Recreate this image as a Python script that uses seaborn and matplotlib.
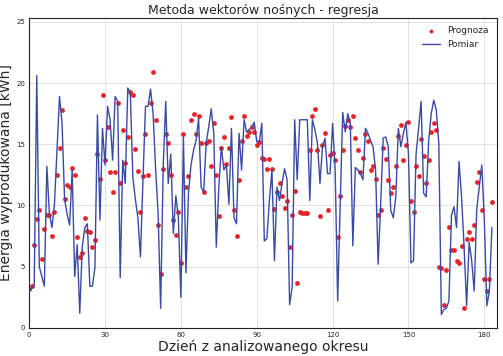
import numpy as np
import pandas as pd
import matplotlib
matplotlib.use('Agg')
import matplotlib.pyplot as plt
import seaborn as sns

# Measured energy (line), one value per day
pomiar = [
    3.0, 3.2, 3.5, 20.6, 5.0, 4.2, 3.4, 13.2, 9.3, 8.2,
    10.1, 14.5, 18.9, 16.7, 10.5, 9.3, 8.4, 12.9, 4.2, 6.8,
    1.2, 6.6, 8.2, 8.5, 3.4, 3.4, 4.9, 17.4, 8.8, 16.3,
    13.3, 18.1, 17.0, 13.7, 18.9, 18.5, 4.1, 13.7, 11.8, 19.6,
    19.2, 12.3, 10.5, 9.0, 5.8, 12.1, 18.1, 18.1, 19.5, 17.5,
    13.0, 9.3, 1.6, 13.2, 18.5, 11.8, 14.2, 7.7, 10.8, 9.0,
    2.5, 15.6, 4.5, 11.0, 13.3, 14.5, 15.3, 17.1, 11.5, 11.1,
    15.1, 16.4, 17.9, 15.9, 6.6, 11.5, 14.8, 12.9, 13.3, 10.1,
    16.3, 9.0, 8.5, 15.9, 12.9, 17.0, 16.0, 16.2, 16.4, 16.8,
    15.2, 15.2, 16.7, 7.1, 7.3, 10.4, 12.9, 5.5, 11.5, 10.4,
    11.8, 13.0, 12.1, 1.9, 3.3, 17.0, 12.1, 17.0, 17.0, 17.0,
    17.0, 10.4, 17.0, 16.2, 15.1, 11.8, 14.8, 15.5, 12.6, 12.6,
    16.7, 13.0, 2.2, 10.1, 17.6, 16.0, 17.5, 16.7, 6.7, 13.1,
    12.9, 12.6, 12.1, 16.3, 15.9, 15.3, 14.8, 12.9, 5.2, 10.0,
    15.5, 15.6, 14.8, 9.6, 9.0, 10.7, 16.3, 14.8, 15.9, 16.8,
    14.2, 5.3, 5.5, 14.2, 16.3, 18.5, 11.0, 10.7, 15.3, 17.5,
    18.6, 17.8, 15.1, 1.1, 1.5, 1.6, 2.2, 9.2, 9.9, 8.2,
    13.6, 10.7, 6.6, 1.8, 7.0, 5.5, 3.0, 9.7, 11.5, 13.3,
    8.8, 1.8, 3.0, 8.2,
]

# Predicted energy (dots)
prognoza = [
    3.2, 3.4, 6.8, 8.9, 9.6, 5.6, 8.1, 9.2, 9.2, 7.5,
    9.5, 12.5, 14.7, 17.8, 10.5, 11.7, 11.5, 13.1, 12.5, 7.4,
    5.8, 6.1, 9.0, 7.9, 7.8, 6.6, 7.2, 14.2, 12.2, 19.0,
    13.7, 16.4, 12.7, 11.1, 12.7, 18.4, 11.8, 16.2, 13.5, 15.6,
    19.3, 19.0, 14.6, 12.8, 9.5, 12.4, 15.8, 12.5, 18.4, 20.9,
    17.0, 8.4, 4.4, 13.0, 15.8, 15.1, 12.5, 8.8, 7.6, 9.5,
    5.3, 15.8, 11.5, 12.4, 17.0, 17.5, 15.8, 17.3, 15.1, 11.1,
    15.1, 15.3, 13.2, 16.7, 12.5, 9.1, 14.7, 15.6, 13.4, 14.7,
    17.2, 9.6, 7.5, 12.1, 15.3, 17.3, 15.7, 16.0, 16.4, 16.0,
    14.9, 15.2, 13.9, 13.8, 13.0, 13.8, 13.0, 9.7, 11.1, 11.8,
    10.8, 9.8, 10.4, 6.6, 9.2, 11.2, 3.7, 9.5, 9.4, 9.4,
    9.4, 14.5, 17.3, 17.9, 14.5, 9.1, 14.9, 15.9, 9.6, 14.1,
    14.3, 13.7, 7.4, 10.8, 14.5, 16.5, 17.0, 16.4, 17.3, 15.5,
    14.5, 12.7, 13.9, 15.8, 15.3, 12.9, 13.2, 12.2, 9.2, 9.6,
    14.7, 13.8, 12.1, 11.0, 11.5, 13.2, 15.7, 16.6, 13.7, 14.9,
    16.8, 10.4, 9.5, 13.2, 12.4, 15.4, 14.0, 11.8, 13.7, 16.0,
    16.7, 16.2, 5.0, 4.9, 1.9, 4.7, 8.2, 6.4, 6.4, 5.5,
    5.3, 6.7, 1.6, 7.3, 7.8, 7.3, 8.4, 11.9, 12.7, 9.6,
    4.0, 3.0, 4.0, 10.3,
]

dni = np.arange(len(pomiar))
df = pd.DataFrame({'dzien': dni, 'pomiar': pomiar, 'prognoza': prognoza})

sns.set_style("whitegrid")
plt.rcParams['font.family'] = ['DejaVu Sans']

fig = plt.figure(figsize=(5.03, 3.56), dpi=100)
ax = fig.add_axes([0.058, 0.079, 0.93, 0.87])

sns.scatterplot(data=df, x='dzien', y='prognoza', ax=ax, color='#e8242a',
                s=12, linewidth=0, label='Prognoza', zorder=2)
sns.lineplot(data=df, x='dzien', y='pomiar', ax=ax, color='#3a4aa5',
             linewidth=1.0, label='Pomiar', zorder=3)

ax.set_xlim(0, 185)
ax.set_ylim(0, 25.3)
ax.set_xticks(range(0, 181, 30))
ax.set_yticks(range(0, 26, 5))
ax.tick_params(labelsize=5, length=2, pad=1)
ax.grid(True, color='#dddddd', linewidth=0.6)
for sp in ax.spines.values():
    sp.set_color('#222222')
    sp.set_linewidth(0.8)

ax.set_title('Metoda wektorów nośnych - regresja', fontsize=9, pad=3)
ax.set_xlabel('Dzień z analizowanego okresu', fontsize=10, labelpad=1)
ax.set_ylabel('Energia wyprodukowana [kWh]', fontsize=10, labelpad=2)
ax.legend(loc='upper right', fontsize=6.5, frameon=False, markerscale=0.8)

fig.savefig('out.png', dpi=100)
